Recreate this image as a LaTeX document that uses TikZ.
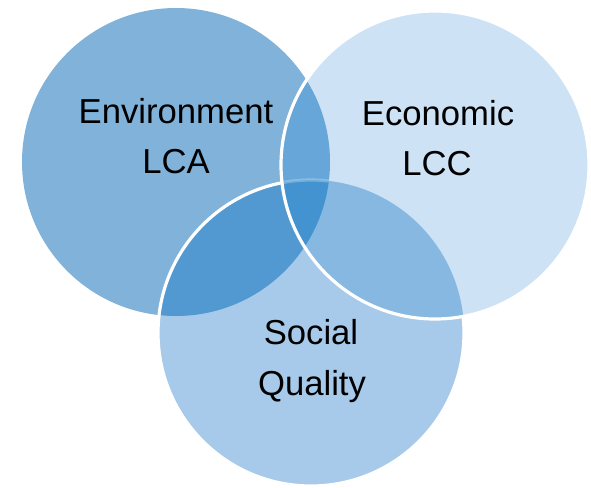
\documentclass[tikz,border=0pt]{standalone}
\usepackage{fontspec}
\setmainfont{Liberation Sans}
\definecolor{envfill}{HTML}{80B2DA}
\definecolor{ecofill}{HTML}{CDE2F4}
\definecolor{socfill}{HTML}{A7CAEA}
\definecolor{envecofill}{HTML}{67A6D8}
\definecolor{envsocfill}{HTML}{5399D1}
\definecolor{ecosocfill}{HTML}{86B8E2}
\definecolor{allfill}{HTML}{4393D1}
\begin{document}
\begin{tikzpicture}[x=0.75pt,y=-0.75pt,
  caption/.style={font=\fontsize{26}{31}\selectfont, anchor=base, inner sep=0pt},
  rim/.style={draw=white, line width=2.4pt}]
\useasboundingbox (0,0) rectangle (591,487);
% the three circles
\def\envpath{(176,162) circle[radius=154]}
\def\ecopath{(435,165) circle[radius=154]}
\def\socpath{(311,333) circle[radius=153]}
% single regions
\fill[envfill] \envpath;
\fill[ecofill] \ecopath;
\fill[socfill] \socpath;
% pairwise overlaps
\begin{scope}
  \clip \envpath;
  \fill[envecofill] \ecopath;
  \fill[envsocfill] \socpath;
\end{scope}
\begin{scope}
  \clip \ecopath;
  \fill[ecosocfill] \socpath;
\end{scope}
% triple overlap
\begin{scope}
  \clip \envpath;
  \clip \ecopath;
  \fill[allfill] \socpath;
\end{scope}
% rim of the social circle, white outside the economic circle
\begin{scope}[even odd rule]
  \clip (-10,-10) rectangle (601,497) \ecopath;
  \draw[rim] \socpath;
\end{scope}
% faint rim inside the triple overlap
\begin{scope}
  \clip \envpath;
  \clip \ecopath;
  \draw[rim, draw opacity=0.25] \socpath;
\end{scope}
% rim of the economic circle
\draw[rim] \ecopath;
% labels
\node[caption] (env1) at (176,123) {Environment};
\node[caption] (env2) at (176,173) {LCA};
\node[caption] (eco1) at (438,125) {Economic};
\node[caption] (eco2) at (437,175) {LCC};
\node[caption] (soc1) at (311,344) {Social};
\node[caption] (soc2) at (312,395) {Quality};
\end{tikzpicture}
\end{document}
